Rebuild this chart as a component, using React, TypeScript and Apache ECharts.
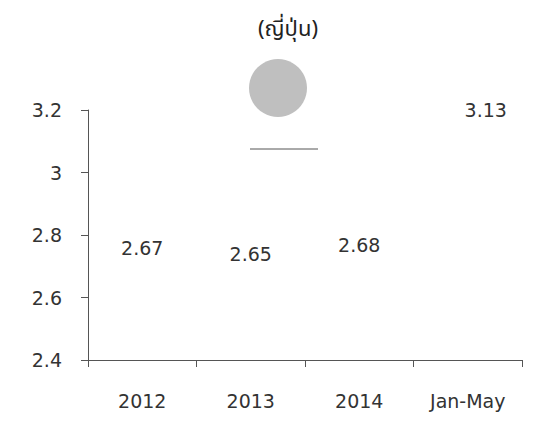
import React, { useEffect, useRef } from "react";
import * as echarts from "echarts";

const categories = ["2012", "2013", "2014", "Jan-May"];
const values = [2.67, 2.65, 2.68, 3.13];
const yTicks = { min: 2.4, max: 3.2, interval: 0.2 };
const titleText = "(ญี่ปุ่น)";

export default function App() {
  const ref = useRef<HTMLDivElement>(null);
  useEffect(() => {
    if (!ref.current) return;
    const chart = echarts.init(ref.current, null, { renderer: "svg" });
    const font = "'DejaVu Sans', Verdana, sans-serif";
    chart.setOption({
      animation: false,
      backgroundColor: "#ffffff",
      title: {
        text: titleText,
        left: 283,
        top: 13,
        textAlign: "center",
        textStyle: {
          fontFamily: "'Noto Sans Thai', 'Noto Sans', sans-serif",
          fontSize: 22,
          fontWeight: "normal",
          color: "#222",
        },
      },
      graphic: [
        {
          type: "circle",
          shape: { cx: 278, cy: 88, r: 29 },
          style: { fill: "#b8b8b8", opacity: 0.9 },
        },
        {
          type: "line",
          shape: { x1: 250, y1: 149, x2: 318, y2: 149 },
          style: { stroke: "#555", lineWidth: 1 },
        },
      ],
      grid: { left: 88, right: 14, top: 110, bottom: 61, containLabel: false },
      xAxis: {
        type: "category",
        data: categories,
        boundaryGap: true,
        axisLine: { show: true, lineStyle: { color: "#555", width: 1 } },
        axisTick: { show: true, inside: false, length: 7, alignWithLabel: false, lineStyle: { color: "#555" } },
        axisLabel: { color: "#333", fontSize: 19, fontFamily: font, margin: 31 },
        splitLine: { show: false },
      },
      yAxis: {
        type: "value",
        min: yTicks.min,
        max: yTicks.max,
        interval: yTicks.interval,
        axisLine: { show: true, lineStyle: { color: "#555", width: 1 } },
        axisTick: { show: true, length: 7, lineStyle: { color: "#555" } },
        axisLabel: {
          color: "#333",
          fontSize: 19,
          fontFamily: font,
          margin: 26,
          formatter: (v: number) => String(Math.round(v * 10) / 10),
        },
        splitLine: { show: false },
      },
      series: [
        {
          type: "bar",
          data: values.map((v, i) =>
            i === values.length - 1 ? { value: v, label: { offset: [18, 6] } } : v
          ),
          barWidth: "60%",
          itemStyle: { color: "rgba(255,255,255,0)" },
          label: {
            show: true,
            position: "top",
            distance: 18,
            fontSize: 19,
            fontFamily: font,
            color: "#333",
            formatter: (p: any) => Number(p.value).toFixed(2),
          },
        },
      ],
    });
    return () => chart.dispose();
  }, []);
  return <div ref={ref} style={{ width: 536, height: 421, position: "absolute", left: 0, top: 0 }} />;
}
